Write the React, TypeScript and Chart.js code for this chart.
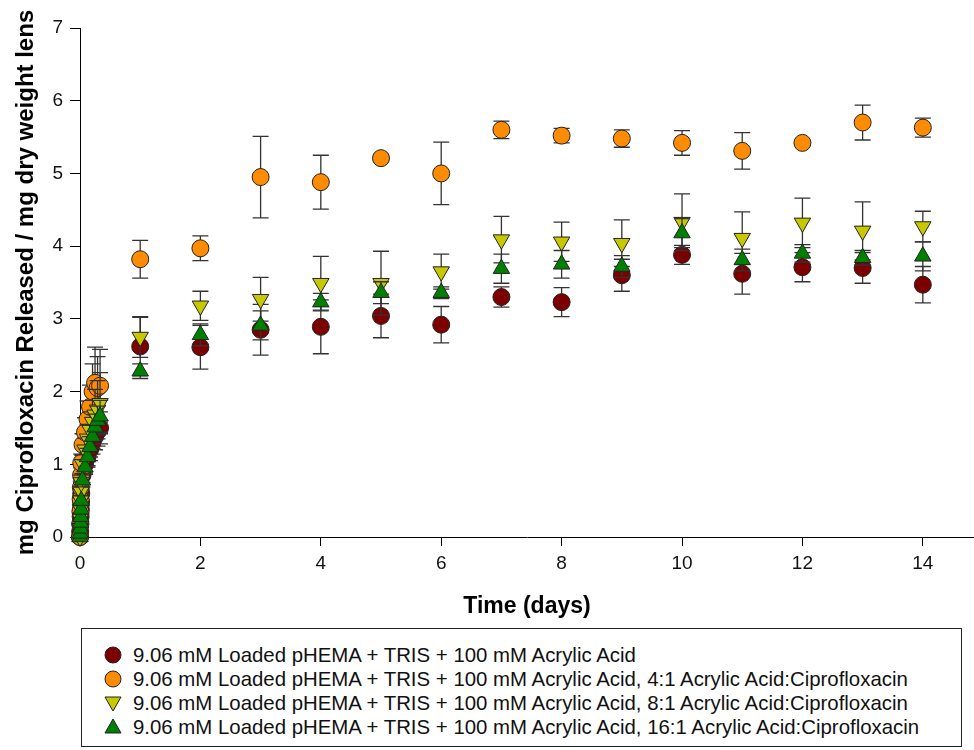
import React, { useEffect, useRef } from "react";
import { Chart, registerables } from "chart.js";
Chart.register(...registerables);

const FONT = "'Liberation Sans', Arial, sans-serif";

// Time points (days)
const days = [0, 0.0035, 0.0069, 0.0104, 0.0139, 0.0174, 0.0208, 0.0417, 0.0833, 0.125, 0.1667, 0.2083, 0.25, 0.2917, 0.3333,
  1, 2, 3, 4, 5, 6, 7, 8, 9, 10, 11, 12, 13, 14];

// 9.06 mM Loaded pHEMA + TRIS + 100 mM Acrylic Acid
const aaValues = [0, 0.08, 0.18, 0.28, 0.38, 0.48, 0.6, 0.85, 1.0, 1.1, 1.2, 1.3, 1.38, 1.45, 1.5,
  2.62, 2.61, 2.85, 2.89, 3.04, 2.92, 3.30, 3.23, 3.60, 3.88, 3.62, 3.71, 3.70, 3.47];
const aaErrors = [0, 0.02, 0.04, 0.05, 0.06, 0.07, 0.08, 0.1, 0.12, 0.14, 0.15, 0.16, 0.18, 0.2, 0.22,
  0.4, 0.3, 0.35, 0.37, 0.3, 0.25, 0.14, 0.2, 0.22, 0.13, 0.28, 0.2, 0.21, 0.25];

// 4:1 Acrylic Acid:Ciprofloxacin
const r4Values = [0, 0.18, 0.35, 0.52, 0.68, 0.85, 1.02, 1.27, 1.44, 1.62, 1.79, 2.0, 2.12, 2.05, 2.08,
  3.82, 3.97, 4.95, 4.88, 5.21, 5.00, 5.60, 5.52, 5.48, 5.42, 5.31, 5.42, 5.70, 5.63];
const r4Errors = [0, 0.03, 0.05, 0.07, 0.09, 0.1, 0.12, 0.15, 0.2, 0.25, 0.3, 0.38, 0.49, 0.43, 0.5,
  0.26, 0.17, 0.56, 0.37, 0.05, 0.43, 0.12, 0.1, 0.12, 0.17, 0.25, 0, 0.24, 0.13];

// 8:1 Acrylic Acid:Ciprofloxacin
const r8Values = [0, 0.12, 0.25, 0.38, 0.5, 0.62, 0.75, 1.0, 1.2, 1.35, 1.47, 1.58, 1.68, 1.75, 1.84,
  2.75, 3.18, 3.27, 3.49, 3.49, 3.65, 4.09, 4.06, 4.04, 4.33, 4.11, 4.32, 4.21, 4.27];
const r8Errors = [0, 0.02, 0.04, 0.05, 0.07, 0.08, 0.1, 0.13, 0.16, 0.2, 0.25, 0.3, 0.35, 0.4, 0.42,
  0.28, 0.2, 0.3, 0.37, 0.44, 0.24, 0.32, 0.27, 0.32, 0.39, 0.36, 0.34, 0.4, 0.21];

// 16:1 Acrylic Acid:Ciprofloxacin
const r16Values = [0, 0.05, 0.12, 0.2, 0.28, 0.38, 0.5, 0.78, 0.96, 1.1, 1.24, 1.38, 1.51, 1.6, 1.66,
  2.28, 2.78, 2.91, 3.23, 3.36, 3.36, 3.69, 3.75, 3.72, 4.18, 3.81, 3.90, 3.84, 3.86];
const r16Errors = [0, 0.02, 0.03, 0.04, 0.05, 0.06, 0.07, 0.09, 0.1, 0.12, 0.14, 0.16, 0.18, 0.2, 0.22,
  0.1, 0.15, 0.2, 0.12, 0.15, 0.08, 0.2, 0.19, 0.15, 0.2, 0.15, 0.12, 0.1, 0.2];

const seriesLabels = [
  "9.06 mM Loaded pHEMA + TRIS + 100 mM Acrylic Acid",
  "9.06 mM Loaded pHEMA + TRIS + 100 mM Acrylic Acid, 4:1 Acrylic Acid:Ciprofloxacin",
  "9.06 mM Loaded pHEMA + TRIS + 100 mM Acrylic Acid, 8:1 Acrylic Acid:Ciprofloxacin",
  "9.06 mM Loaded pHEMA + TRIS + 100 mM Acrylic Acid, 16:1 Acrylic Acid:Ciprofloxacin",
];
const seriesColors = ["#7d0000", "#ff8c00", "#c8c800", "#008000"];
const seriesShapes = ["circle", "circle", "down", "up"];

const xTitle = "Time (days)";
const yTitle = "mg Ciprofloxacin Released / mg dry weight lens";

const errorBarPlugin = {
  id: "errorBars",
  beforeDatasetDraw(chart: any, args: any) {
    const ds = chart.data.datasets[args.index];
    const errs = ds.errors as number[] | undefined;
    if (!errs) return;
    const xs = chart.scales.x;
    const ys = chart.scales.y;
    const ctx = chart.ctx;
    ctx.save();
    ctx.strokeStyle = "#333";
    ctx.lineWidth = 1.3;
    ds.data.forEach((p: any, i: number) => {
      const e = errs[i];
      if (!e) return;
      const x = xs.getPixelForValue(p.x);
      const yt = ys.getPixelForValue(p.y + e);
      const yb = ys.getPixelForValue(p.y - e);
      ctx.beginPath();
      ctx.moveTo(x, yt);
      ctx.lineTo(x, yb);
      ctx.moveTo(x - 8, yt);
      ctx.lineTo(x + 8, yt);
      ctx.moveTo(x - 8, yb);
      ctx.lineTo(x + 8, yb);
      ctx.stroke();
    });
    ctx.restore();
  },
};

function makePoints(vals: number[]) {
  return vals.map((v, i) => ({ x: days[i], y: v }));
}

function Marker({ shape, color }: { shape: string; color: string }) {
  return (
    <svg width={20} height={20} style={{ display: "block" }}>
      {shape === "circle" && <circle cx={10} cy={10} r={8} fill={color} stroke="#222" strokeWidth={1} />}
      {shape === "up" && <polygon points="10,2 18,16 2,16" fill={color} stroke="#222" strokeWidth={1} />}
      {shape === "down" && <polygon points="2,4 18,4 10,18" fill={color} stroke="#222" strokeWidth={1} />}
    </svg>
  );
}

export default function App() {
  const ref = useRef<HTMLCanvasElement>(null);
  useEffect(() => {
    if (!ref.current) return;
    const allVals = [aaValues, r4Values, r8Values, r16Values];
    const allErrs = [aaErrors, r4Errors, r8Errors, r16Errors];
    const datasets = allVals.map((vals, k) => ({
      label: seriesLabels[k],
      data: makePoints(vals),
      errors: allErrs[k],
      backgroundColor: seriesColors[k],
      borderColor: "#222",
      borderWidth: 1,
      pointStyle: seriesShapes[k] === "circle" ? "circle" : "triangle",
      rotation: seriesShapes[k] === "down" ? 180 : 0,
      pointRadius: seriesShapes[k] === "circle" ? 8.5 : 9.5,
      pointHoverRadius: seriesShapes[k] === "circle" ? 8.5 : 9.5,
      showLine: false,
      clip: false as any,
      order: 4 - k,
    }));
    const chart = new Chart(ref.current, {
      type: "scatter",
      data: { datasets: datasets as any },
      options: {
        animation: false,
        responsive: false,
        devicePixelRatio: 1,
        layout: { autoPadding: false, padding: { top: 28, right: 0, bottom: 0, left: 0 } },
        plugins: { legend: { display: false }, tooltip: { enabled: false } },
        scales: {
          x: {
            type: "linear",
            min: 0,
            max: 14.85,
            afterFit: (s: any) => { s.height = 88; },
            ticks: { stepSize: 2, includeBounds: false, maxRotation: 0, padding: 6, color: "#111", font: { family: FONT, size: 19 } },
            grid: { display: true, drawOnChartArea: false, drawTicks: true, tickLength: 9, color: "#000", lineWidth: 1 },
            border: { display: true, color: "#000", width: 1 },
            title: { display: true, text: xTitle, color: "#000", font: { family: FONT, size: 23, weight: "bold" }, padding: { top: 0, bottom: 5 } },
          },
          y: {
            type: "linear",
            min: 0,
            max: 7,
            afterFit: (s: any) => { s.width = 80; },
            ticks: { stepSize: 1, padding: 7, color: "#111", font: { family: FONT, size: 19 } },
            grid: { display: true, drawOnChartArea: false, drawTicks: true, tickLength: 10, color: "#000", lineWidth: 1 },
            border: { display: true, color: "#000", width: 1 },
            title: { display: true, text: yTitle, color: "#000", font: { family: FONT, size: 24, weight: "bold" }, padding: { top: 12, bottom: 0 } },
          },
        },
      } as any,
      plugins: [errorBarPlugin],
    });
    return () => chart.destroy();
  }, []);

  const rowCenters = [26, 50, 74, 98];
  return (
    <div style={{ position: "absolute", left: 0, top: 0, width: 974, height: 750, background: "#fff" }}>
      <canvas ref={ref} width={974} height={625} style={{ position: "absolute", left: 0, top: 0, width: 974, height: 625 }} />
      <div style={{ position: "absolute", left: 81, top: 628, width: 881, height: 119, border: "1px solid #222", boxSizing: "border-box" }}>
        {seriesLabels.map((lab, k) => (
          <div key={k} style={{ position: "absolute", left: 0, top: rowCenters[k] - 12, height: 24, width: 878 }}>
            <div style={{ position: "absolute", left: 21, top: 2 }}>
              <Marker shape={seriesShapes[k]} color={seriesColors[k]} />
            </div>
            <div style={{ position: "absolute", left: 51, top: 0, lineHeight: "24px", fontFamily: FONT, fontSize: 20.4, color: "#111", whiteSpace: "nowrap" }}>
              {lab}
            </div>
          </div>
        ))}
      </div>
    </div>
  );
}
